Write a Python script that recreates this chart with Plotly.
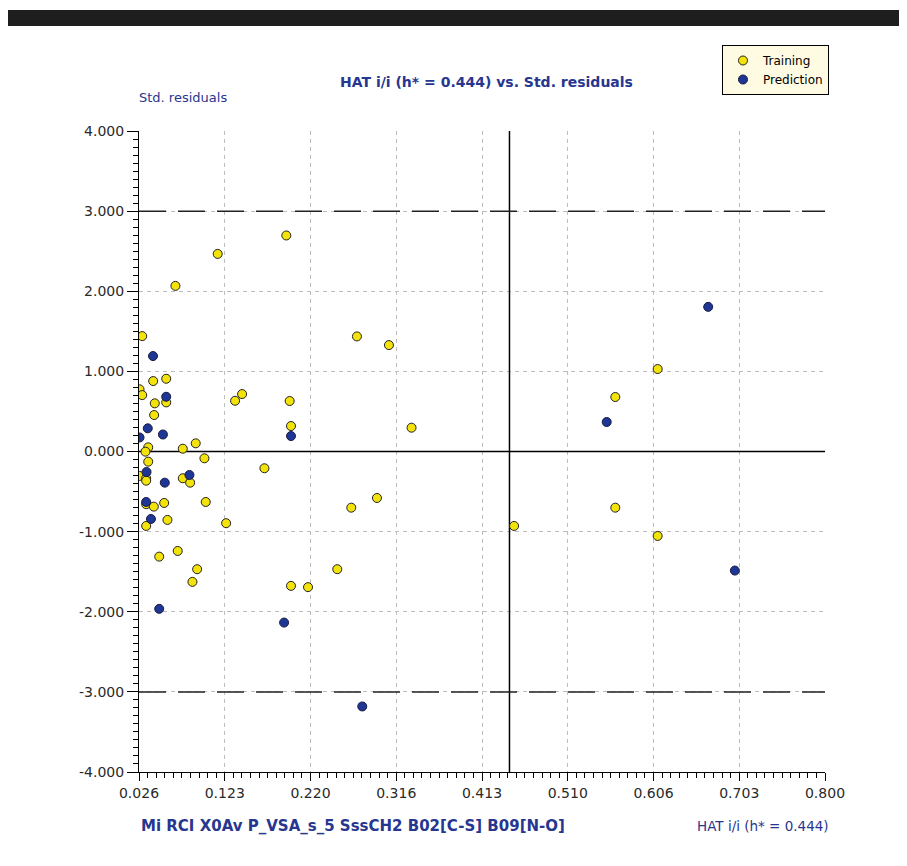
import plotly.graph_objects as go

# ---- data ----
train_hat = [0.0296, 0.0266, 0.0296, 0.0420, 0.0567, 0.0438, 0.0567, 0.0431, 0.0364, 0.0754,
             0.0900, 0.1344, 0.1423, 0.0998, 0.1922, 0.1148, 0.0671, 0.2719, 0.3080, 0.1960,
             0.1975, 0.3335, 0.0333, 0.0364, 0.0266, 0.0341, 0.0341, 0.0754, 0.0837, 0.0341,
             0.0427, 0.0544, 0.1013, 0.0581, 0.0341, 0.1243, 0.0488, 0.0697, 0.0916, 0.0863,
             0.1675, 0.2655, 0.2945, 0.2497, 0.1975, 0.2167, 0.5634, 0.6112, 0.5634, 0.4492,
             0.6112]
train_res = [1.440, 0.776, 0.704, 0.879, 0.908, 0.601, 0.613, 0.455, 0.052, 0.035,
             0.102, 0.633, 0.717, -0.085, 2.696, 2.466, 2.067, 1.436, 1.328, 0.630,
             0.318, 0.297, -0.002, -0.127, -0.305, -0.334, -0.364, -0.334, -0.389, -0.658,
             -0.688, -0.642, -0.630, -0.854, -0.929, -0.895, -1.312, -1.241, -1.469, -1.627,
             -0.209, -0.701, -0.580, -1.469, -1.677, -1.693, 0.680, 1.029, -0.701, -0.929,
             -1.054]

pred_hat = [0.0418, 0.0567, 0.0359, 0.0266, 0.0530, 0.0345, 0.0551, 0.0829, 0.0341, 0.0395,
            0.0488, 0.1975, 0.1897, 0.2779, 0.5537, 0.6682, 0.6983]
pred_res = [1.191, 0.683, 0.289, 0.175, 0.212, -0.256, -0.389, -0.293, -0.630, -0.842,
            -1.964, 0.193, -2.135, -3.182, 0.368, 1.805, -1.486]

x_ticks = [0.026, 0.12275, 0.2195, 0.31625, 0.413, 0.50975, 0.6065, 0.70325, 0.800]
x_tick_text = ["0.026", "0.123", "0.220", "0.316", "0.413", "0.510", "0.606", "0.703", "0.800"]
y_ticks = [-4, -3, -2, -1, 0, 1, 2, 3, 4]
y_tick_text = ["-4.000", "-3.000", "-2.000", "-1.000", "0.000", "1.000", "2.000", "3.000", "4.000"]
h_star = 0.444
warn_res = 3.0

NAVY = "#27368f"
OFF = 8  # page body margin
W, H = 907 - OFF, 866 - OFF
# plot area in reference (screen) pixels
PL, PR, PT, PB = 138.5, 825.0, 131.0, 772.0
L, T = PL - OFF, PT - OFF
R, B = W - (PR - OFF), H - (PB - OFF)
pw, ph = PR - PL, PB - PT


def px_x(p):
    return (p - PL) / pw


def px_y(p):
    return (PB - p) / ph


fig = go.Figure()
fig.add_trace(go.Scatter(
    x=train_hat, y=train_res, mode="markers", name="Training",
    marker=dict(size=9, color="#f3e30a", line=dict(color="#222222", width=1)),
))
fig.add_trace(go.Scatter(
    x=pred_hat, y=pred_res, mode="markers", name="Prediction",
    marker=dict(size=9, color="#1e3796", line=dict(color="#1a1a40", width=1)),
))

# reference lines
fig.add_shape(type="line", xref="x", yref="y", x0=h_star, x1=h_star, y0=-4, y1=4,
              line=dict(color="black", width=1.5), layer="between")
fig.add_shape(type="line", xref="x", yref="y", x0=0.026, x1=0.8, y0=0, y1=0,
              line=dict(color="black", width=1.5), layer="between")
for yv in (warn_res, -warn_res):
    fig.add_shape(type="line", xref="x", yref="y", x0=0.026, x1=0.8, y0=yv, y1=yv,
                  line=dict(color="#222222", width=1.5, dash="27px,12px"), layer="between")

# black bar at top
fig.add_shape(type="rect", xref="paper", yref="paper",
              x0=px_x(5), x1=px_x(930), y0=px_y(26), y1=px_y(10),
              fillcolor="#1e1e1e", line=dict(width=0), layer="above")

FONT = "DejaVu Sans"
fig.add_annotation(text="<b>HAT i/i (h* = 0.444) vs. Std. residuals</b>", xref="paper", yref="paper",
                   x=px_x(486), y=px_y(82), xanchor="center", yanchor="middle", showarrow=False,
                   font=dict(family=FONT, size=14, color=NAVY))
fig.add_annotation(text="Std. residuals", xref="paper", yref="paper",
                   x=px_x(136), y=px_y(97), xanchor="left", yanchor="middle", showarrow=False,
                   font=dict(family=FONT, size=13, color=NAVY))
fig.add_annotation(text="<b>Mi RCI X0Av P_VSA_s_5 SssCH2 B02[C-S] B09[N-O]</b>", xref="paper", yref="paper",
                   x=px_x(139), y=px_y(826), xanchor="left", yanchor="middle", showarrow=False,
                   font=dict(family=FONT, size=15, color=NAVY))
fig.add_annotation(text="HAT i/i (h* = 0.444)", xref="paper", yref="paper",
                   x=px_x(831), y=px_y(826), xanchor="right", yanchor="middle", showarrow=False,
                   font=dict(family=FONT, size=13.5, color=NAVY))

axis_common = dict(
    showline=True, linecolor="black", linewidth=1,
    ticks="outside", tickcolor="black", tickwidth=1,
    showgrid=True, gridcolor="#bdbdbd", griddash="4px,4px", gridwidth=1,
    zeroline=False, tickfont=dict(family=FONT, size=14, color="#2a2a2a"),
)

fig.update_xaxes(range=[0.026, 0.8], tickmode="array", tickvals=x_ticks, ticktext=x_tick_text,
                 ticklen=8,
                 minor=dict(ticks="outside", ticklen=5, tickcolor="black", dtick=0.009675,
                            tick0=0.026, showgrid=False),
                 **axis_common)
fig.update_yaxes(range=[-4, 4], tickmode="array", tickvals=y_ticks, ticktext=y_tick_text,
                 ticklen=11,
                 minor=dict(ticks="outside", ticklen=5, tickcolor="black", dtick=0.1,
                            tick0=0, showgrid=False),
                 **axis_common)

fig.update_layout(
    width=W, height=H,
    margin=dict(l=L, r=R, t=T, b=B, pad=0),
    paper_bgcolor="white", plot_bgcolor="white",
    showlegend=True,
    legend=dict(x=px_x(829), y=px_y(45), xanchor="right", yanchor="top",
                bgcolor="#fffbe3", bordercolor="black", borderwidth=1,
                font=dict(family=FONT, size=12, color="black"),
                itemwidth=30, tracegroupgap=0),
)

fig.write_html("out.html")
